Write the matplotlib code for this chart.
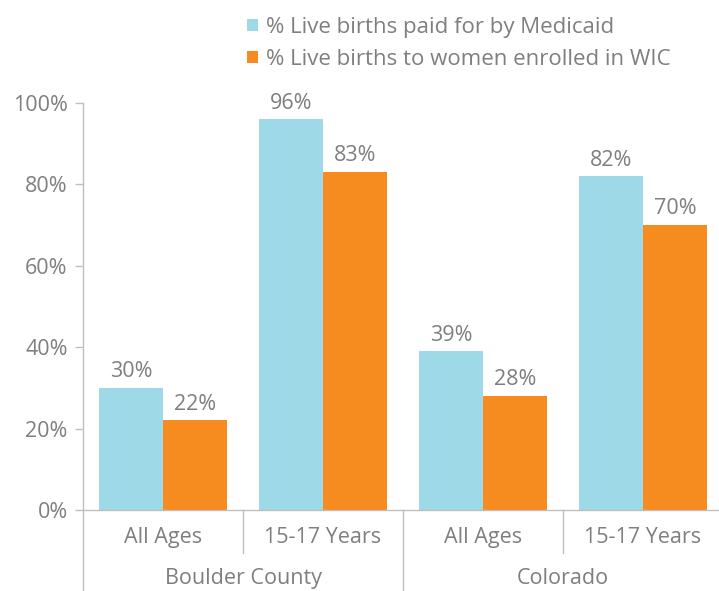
import matplotlib.pyplot as plt
import numpy as np

# data
sub_labels = ['All Ages', '15-17 Years', 'All Ages', '15-17 Years']
group_labels = ['Boulder County', 'Colorado']
medicaid = [30, 96, 39, 82]
wic = [22, 83, 28, 70]
series_names = ['% Live births paid for by Medicaid',
                '% Live births to women enrolled in WIC']

blue = '#9DD9E6'
orange = '#F68B1F'
txt = '#7F7F7F'
line_col = '#BFBFBF'

plt.rcParams['font.family'] = ['Open Sans', 'DejaVu Sans']
fs = 15.5

fig = plt.figure(figsize=(7.19, 5.91), dpi=100)
ax = fig.add_axes([83/719, 1-510/591, 640/719, 407/591])

x = np.arange(len(sub_labels)) + 0.5
w = 0.4
b1 = ax.bar(x - w/2, medicaid, w, color=blue, label=series_names[0])
b2 = ax.bar(x + w/2, wic, w, color=orange, label=series_names[1])

for bars, vals in [(b1, medicaid), (b2, wic)]:
    for r, v in zip(bars, vals):
        ax.text(r.get_x() + r.get_width()/2, v + 1.4, f'{v}%', ha='center',
                va='bottom', fontsize=fs, color=txt)

ax.set_xlim(0, 4)
ax.set_ylim(0, 100)
ax.set_yticks(range(0, 101, 20))
ax.set_yticklabels([f'{t}%' for t in range(0, 101, 20)])
ax.tick_params(axis='y', length=6, width=1, color=line_col, labelcolor=txt,
               labelsize=fs, pad=5)
ax.set_xticks([])

for s in ['top', 'right']:
    ax.spines[s].set_visible(False)
for s in ['left', 'bottom']:
    ax.spines[s].set_color(line_col)
    ax.spines[s].set_linewidth(1)

tr = ax.get_xaxis_transform()
# axis extension and dividers below the plot
ax.plot([0, 0], [-0.2, 0], transform=tr, color=line_col, lw=1, clip_on=False)
ax.plot([2, 2], [-0.2, 0], transform=tr, color=line_col, lw=1, clip_on=False)
for d in [1, 3]:
    ax.plot([d, d], [-0.106, 0], transform=tr, color=line_col, lw=1, clip_on=False)

for xi, lab in zip(x, sub_labels):
    ax.text(xi, -0.068, lab, transform=tr, ha='center', va='center',
            fontsize=fs, color=txt)
for gi, lab in enumerate(group_labels):
    ax.text(gi*2 + 1, -0.168, lab, transform=tr, ha='center', va='center',
            fontsize=fs, color=txt)

leg = fig.legend(loc='upper left', bbox_to_anchor=(238/719, 1 - 8/591),
                 frameon=False, fontsize=16, handlelength=0.5, handleheight=0.5,
                 handletextpad=0.35, labelspacing=0.5, borderaxespad=0)
for t in leg.get_texts():
    t.set_color(txt)

fig.savefig('out.png', dpi=100)
